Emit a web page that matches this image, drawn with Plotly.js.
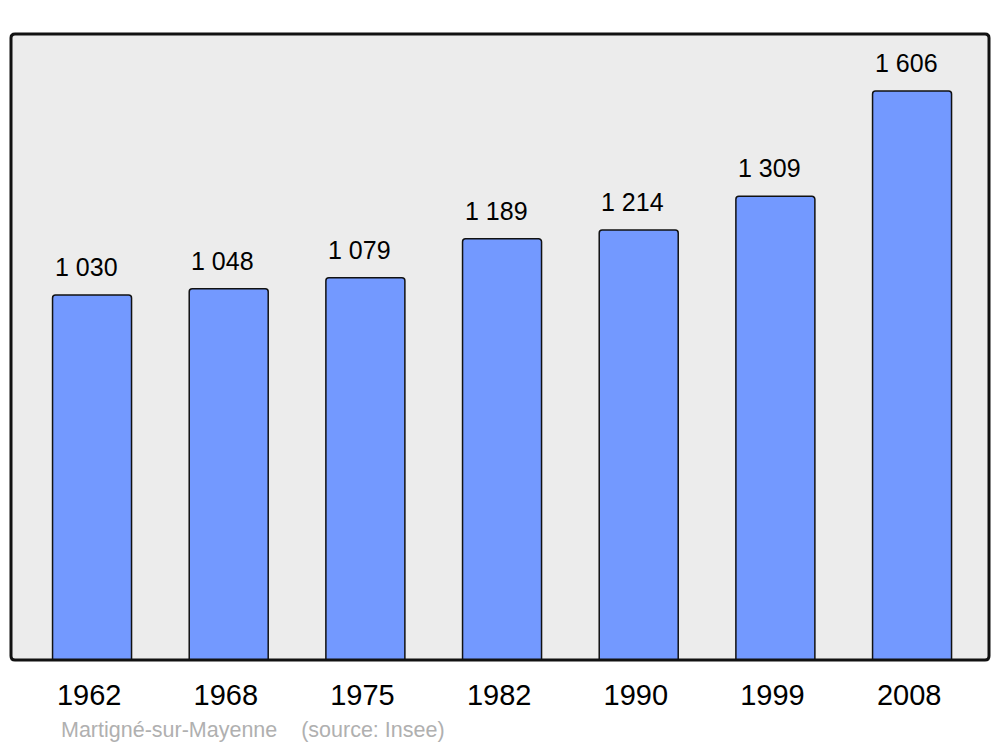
<!DOCTYPE html>
<html>
<head>
<meta charset="utf-8">
<script src="https://cdn.plot.ly/plotly-3.0.1.min.js"></script>
<style>html,body{margin:0;padding:0;background:#fff;}#chart{width:1000px;height:747px;}</style>
</head>
<body>
<div id="chart"></div>
<script>
const years = ["1962", "1968", "1975", "1982", "1990", "1999", "2008"];
const population = [1030, 1048, 1079, 1189, 1214, 1309, 1606];
const footer = "Martigné-sur-Mayenne\u00a0\u00a0\u00a0\u00a0(source: Insee)";

function fmt(v) {
  return String(v).replace(/\B(?=(\d{3})+(?!\d))/g, " ");
}

const font = "Liberation Sans, Arial, sans-serif";

const trace = {
  type: "bar",
  x: years,
  y: population,
  width: 0.578,
  marker: {
    color: "#7399ff",
    line: {color: "#111", width: 1.5},
    cornerradius: 3
  },
  hoverinfo: "skip"
};

const L = 11, R = 11, T = 34, B = 87, W = 1000, H = 747;
const pw = W - L - R, ph = H - T - B;

const annotations = years.map((yr, i) => ({
  x: i, y: population[i], xref: "x", yref: "y",
  text: fmt(population[i]),
  showarrow: false, yanchor: "bottom", yshift: 12, xshift: -6,
  font: {family: font, size: 25, color: "#000"}
}));
annotations.push({
  x: (59 - L) / pw, y: (H - B - 730) / ph, xref: "paper", yref: "paper",
  text: footer, showarrow: false, xanchor: "left", yanchor: "middle",
  font: {family: font, size: 21.5, color: "#b0b0b0"}
});

// rounded frame path in paper coords
const rx = 4 / pw, ry = 4 / ph;
const framePath =
  `M ${rx},0 L ${1 - rx},0 Q 1,0 1,${ry} L 1,${1 - ry} Q 1,1 ${1 - rx},1 ` +
  `L ${rx},1 Q 0,1 0,${1 - ry} L 0,${ry} Q 0,0 ${rx},0 Z`;

const layout = {
  width: W, height: H,
  margin: {l: L, r: R, t: T, b: B, pad: 0},
  paper_bgcolor: "#fff",
  plot_bgcolor: "#ececec",
  showlegend: false,
  xaxis: {
    type: "category",
    range: [-0.593, 6.563],
    tickmode: "array",
    tickvals: years,
    ticktext: years.map(y => y + "\u2009"),
    showgrid: false, zeroline: false, showline: false,
    ticks: "", ticklabelstandoff: 15,
    tickfont: {family: font, size: 29, color: "#000"},
    fixedrange: true
  },
  yaxis: {
    range: [0, 1767],
    showgrid: false, zeroline: false, showline: false,
    showticklabels: false, ticks: "",
    fixedrange: true
  },
  shapes: [{
    type: "path", xref: "paper", yref: "paper",
    path: framePath,
    line: {color: "#111", width: 3},
    fillcolor: "rgba(0,0,0,0)", layer: "above"
  }],
  annotations: annotations
};

Plotly.newPlot("chart", [trace], layout, {displayModeBar: false, staticPlot: true});
</script>
</body>
</html>
